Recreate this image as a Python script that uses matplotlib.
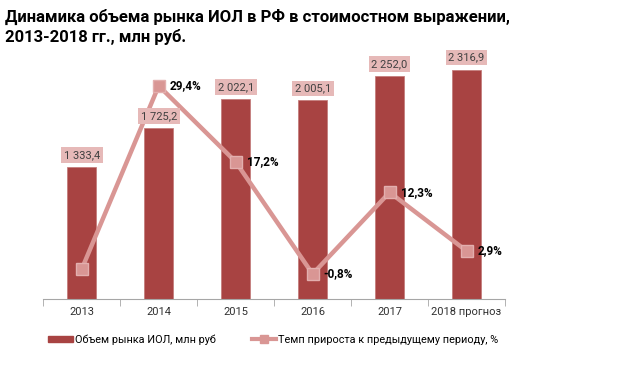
import numpy as np
import matplotlib.pyplot as plt
from matplotlib.lines import Line2D
from matplotlib.patches import Patch

plt.rcParams['font.family'] = ['Roboto', 'DejaVu Sans']

# data
years = ['2013', '2014', '2015', '2016', '2017', '2018 прогноз']
volume = [1333.4, 1725.2, 2022.1, 2005.1, 2252.0, 2316.9]
volume_labels = ['1 333,4', '1 725,2', '2 022,1', '2 005,1', '2 252,0', '2 316,9']
growth = [0.0, 29.4, 17.2, -0.8, 12.3, 2.9]
growth_labels = ['', '29,4%', '17,2%', '-0,8%', '12,3%', '2,9%']

bar_color = '#A84342'
line_color = '#D99694'
box_color = '#E6B9B8'

fig = plt.figure(figsize=(6.23, 3.76), dpi=100)
ax = fig.add_axes([0.0695, 0.205, 0.7411, 0.658])
x = np.arange(len(years))

ax.bar(x, volume, width=0.38, color=bar_color, edgecolor='#C47E7D', linewidth=0.6, zorder=2)
ax.set_xlim(-0.5, len(years) - 0.5)
ax.set_ylim(0, 2500)
ax.set_yticks([])
for s in ['top', 'right', 'left']:
    ax.spines[s].set_visible(False)
ax.spines['bottom'].set_color('#A6A6A6')
ax.set_xticks(x)
ax.set_xticklabels(years, fontsize=8, color='#303030')
ax.tick_params(axis='x', length=0, pad=6)
# tick marks between categories
ax.set_xticks(np.arange(-0.5, len(years)), minor=True)
ax.tick_params(axis='x', which='minor', length=5, color='#A6A6A6')

ax2 = ax.twinx()
ax2.set_ylim(-4.8, 34.9)
ax2.axis('off')
ax2.plot(x, growth, color=line_color, linewidth=3.2, marker='s', markersize=9,
         markerfacecolor=line_color, markeredgecolor='#E3AFAE', zorder=3)
for xi, g, lab in zip(x, growth, growth_labels):
    if lab:
        ax2.annotate(lab, (xi, g), xytext=(11, 0), textcoords='offset pixels',
                     ha='left', va='center', fontsize=8.5, fontweight='bold', color='black')

# bar value labels sit on top of the line
for xi, v, lab in zip(x, volume, volume_labels):
    ax2.annotate(lab, (xi, v), xycoords=ax.transData, xytext=(0, 7), textcoords='offset pixels',
                 ha='center', va='bottom', fontsize=8, color='#404040', zorder=5,
                 bbox=dict(boxstyle='square,pad=0.25', fc=box_color, ec='none'))

fig.text(0.008, 0.975, 'Динамика объема рынка ИОЛ в РФ в стоимостном выражении,\n2013-2018 гг., млн руб.',
         ha='left', va='top', fontsize=12, fontweight='bold', linespacing=1.25)

handles = [Patch(color=bar_color),
           Line2D([], [], color=line_color, linewidth=3, marker='s', markersize=6)]
fig.legend(handles, ['Объем рынка ИОЛ, млн руб', 'Темп прироста к предыдущему периоду, %'],
           loc='center left', bbox_to_anchor=(0.062, 0.097), ncol=2, frameon=False,
           fontsize=7.8, handlelength=2.3, handleheight=0.5, handletextpad=0.15,
           columnspacing=3.3)

fig.savefig('out.png', dpi=100)
